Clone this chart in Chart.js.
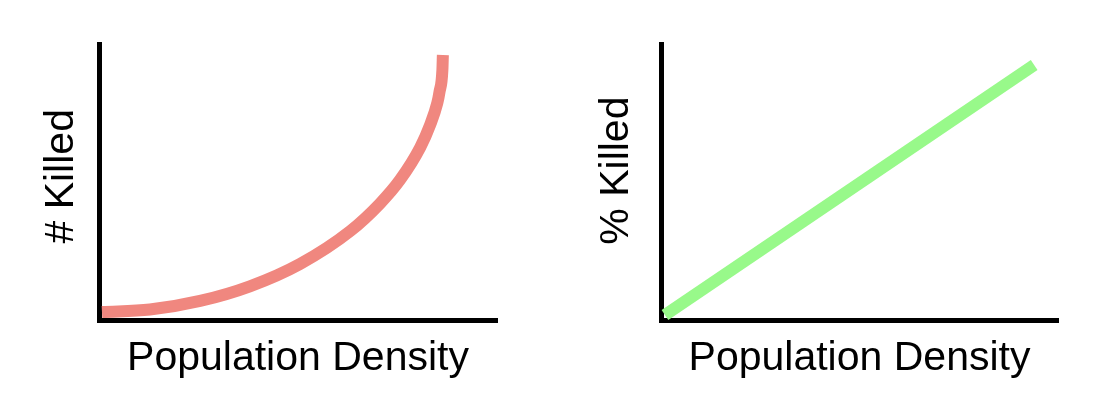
<!DOCTYPE html>
<html>
<head>
<meta charset="utf-8">
<script src="https://cdn.jsdelivr.net/npm/chart.js@4.4.0/dist/chart.umd.min.js"></script>
<style>
  body { margin: 0; background: #fff; }
  #wrap { position: relative; width: 1096px; height: 416px; }
  canvas { position: absolute; top: 0; }
  #count_chart { left: 0; }
  #percent_chart { left: 548px; }
</style>
</head>
<body>
<div id="wrap">
  <canvas id="count_chart" width="548" height="416"></canvas>
  <canvas id="percent_chart" width="548" height="416"></canvas>
</div>
<script>
// values, both axes on a 0-100 scale
var density_count = [0.75, 12.8, 25.4, 37.9, 50.5, 63.1, 70.6, 75.6, 80.7, 83.2, 85.0, 85.55, 86.28, 86.4];
var killed_count = [2.9, 3.8, 6.9, 12.2, 20.3, 32.2, 42.2, 50.7, 62.5, 70.7, 78.6, 82.6, 90.6, 96.0];
var density_percent = [1.0, 94.0];
var killed_percent = [1.8, 92.4];

var x_label = 'Population Density';
// leading spaces nudge the rotated titles up a little, as in the picture
var y_label_count = ' # Killed';
var y_label_percent = '  % Killed';

var to_points = function(xs, ys) {
  var points = [];
  for (var i = 0; i < xs.length; i++) {
    points.push({ x: xs[i], y: ys[i] });
  }
  return points;
};

var title_font = { family: "'Liberation Sans', Arial, sans-serif", size: 41, lineHeight: 1 };

var make_options = function(opts) {
  return {
    responsive: false,
    devicePixelRatio: 1,
    animation: false,
    layout: { padding: opts.padding },
    plugins: { legend: { display: false }, tooltip: { enabled: false } },
    scales: {
      x: {
        type: 'linear', min: 0, max: 100,
        grid: { display: false, drawTicks: false },
        border: { display: true, color: '#000', width: 5 },
        ticks: { display: false },
        title: { display: true, text: x_label, color: '#000', font: title_font, padding: { top: 18, bottom: 0 } }
      },
      y: {
        type: 'linear', min: 0, max: 100,
        grid: { display: false, drawTicks: false },
        border: { display: true, color: '#000', width: 5 },
        ticks: { display: false },
        title: { display: true, text: opts.y_label, color: '#000', font: title_font, padding: { top: 0, bottom: opts.title_gap } }
      }
    }
  };
};

var init_count_chart = function() {
  var ctx = document.getElementById('count_chart').getContext('2d');
  new Chart(ctx, {
    type: 'line',
    data: {
      datasets: [{
        data: to_points(density_count, killed_count),
        borderColor: '#f0877f',
        borderWidth: 12,
        borderCapStyle: 'butt',
        pointRadius: 0,
        cubicInterpolationMode: 'monotone',
        fill: false,
        clip: false
      }]
    },
    options: make_options({
      padding: { left: 41, top: 44, right: 51, bottom: 37 },
      y_label: y_label_count,
      title_gap: 17
    })
  });
};

var init_percent_chart = function() {
  var ctx = document.getElementById('percent_chart').getContext('2d');
  new Chart(ctx, {
    type: 'line',
    data: {
      datasets: [{
        data: to_points(density_percent, killed_percent),
        borderColor: '#98f98a',
        borderWidth: 12,
        borderCapStyle: 'butt',
        pointRadius: 0,
        tension: 0,
        fill: false,
        clip: false
      }]
    },
    options: make_options({
      padding: { left: 48, top: 44, right: 38, bottom: 37 },
      y_label: y_label_percent,
      title_gap: 24
    })
  });
};

init_count_chart();
init_percent_chart();
</script>
</body>
</html>
